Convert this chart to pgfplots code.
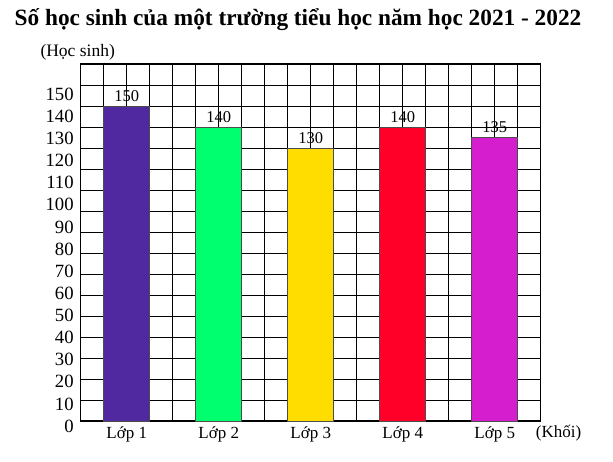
\documentclass[border=0pt]{standalone}
\usepackage{fontspec}
\setmainfont{Liberation Serif}
\usepackage{pgfplots}
\pgfplotsset{compat=1.18}

\definecolor{lop1}{HTML}{50289F}
\definecolor{lop2}{HTML}{00FF6E}
\definecolor{lop3}{HTML}{FFDD00}
\definecolor{lop4}{HTML}{FF0028}
\definecolor{lop5}{HTML}{D51ECD}

\begin{document}
\begin{tikzpicture}[x=1pt,y=1pt]
  % canvas the size of the reference
  \path (0,0) rectangle (613,462);
  \begin{axis}[
    at={(80.7pt,41pt)}, anchor=south west,
    width=460pt, height=357pt, scale only axis,
    xmin=0, xmax=20, ymin=0, ymax=170,
    ybar, bar width=2, bar shift=0pt,
    xtick={2,6,10,14,18},
    xticklabels={Lớp 1,Lớp 2,Lớp 3,Lớp 4,Lớp 5},
    ytick={0,10,...,150},
    minor xtick={0,1,...,20},
    minor ytick={0,10,...,170},
    xminorgrids, yminorgrids,
    minor grid style={black, line width=0.9pt},
    major tick length=0pt, minor tick length=0pt,
    axis line style={black, line width=1.1pt},
    /pgf/number format/assume math mode=true,
    yticklabel style={font=\fontsize{18.7}{18.7}\selectfont,
      xshift=-3.5pt, yshift={-5pt+1.12pt*\ticknum}},
    xticklabel style={font=\fontsize{17}{17}\selectfont,
      anchor=base, yshift=-17.3pt},
    nodes near coords,
    every node near coord/.append style={font=\fontsize{16.5}{16.5}\selectfont,
      anchor=base, yshift=4.5pt, black},
    clip=false,
  ]
  \addplot[fill=lop1, draw=black!70, line width=0.6pt] coordinates {(2,150)};
  \addplot[fill=lop2, draw=black!70, line width=0.6pt] coordinates {(6,140)};
  \addplot[fill=lop3, draw=black!70, line width=0.6pt] coordinates {(10,130)};
  \addplot[fill=lop4, draw=black!70, line width=0.6pt] coordinates {(14,140)};
  \addplot[fill=lop5, draw=black!70, line width=0.6pt] coordinates {(18,135)};
  \end{axis}
  \node[anchor=base, font=\bfseries\fontsize{23.3}{23.3}\selectfont] at (298,436)
    {Số học sinh của một trường tiểu học năm học 2021 - 2022};
  \node[anchor=base, font=\fontsize{17.5}{17.5}\selectfont] at (77.7,405.3) {(Học sinh)};
  \node[anchor=base, font=\fontsize{17}{17}\selectfont] at (558.5,24) {(Khối)};
\end{tikzpicture}
\end{document}
